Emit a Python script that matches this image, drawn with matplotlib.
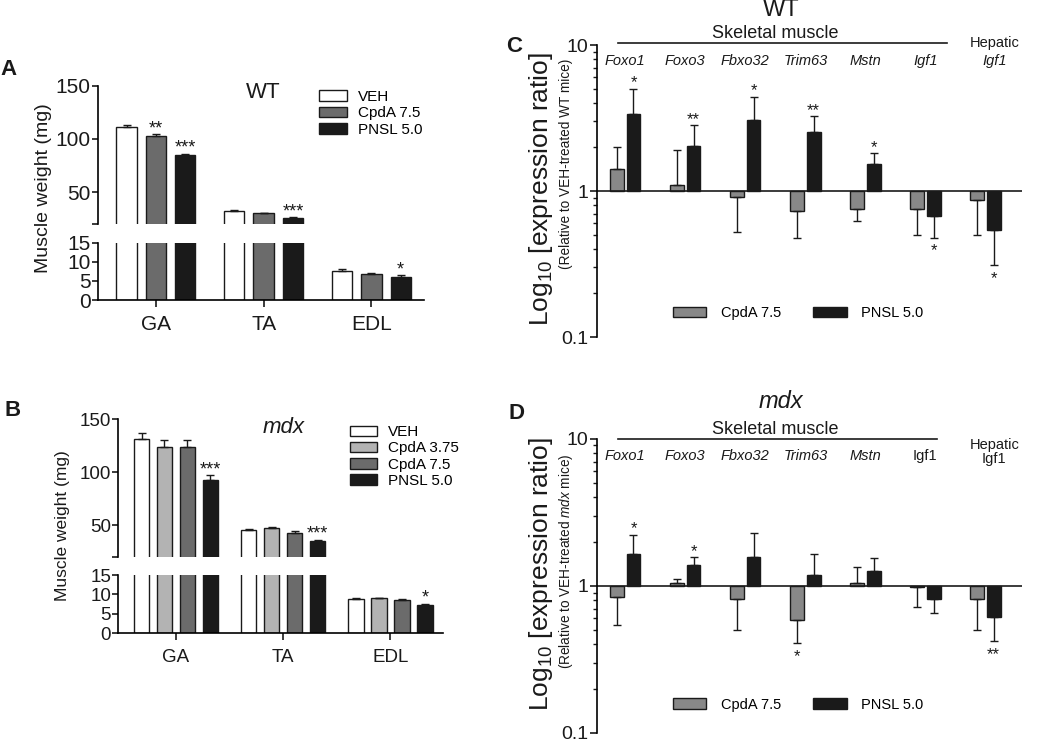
import numpy as np
import matplotlib
matplotlib.use("Agg")
import matplotlib.pyplot as plt
from matplotlib.ticker import LogLocator, NullFormatter, FixedLocator, FixedFormatter

plt.rcParams['font.family'] = ['Liberation Sans', 'DejaVu Sans']
plt.rcParams['mathtext.fontset'] = 'custom'
plt.rcParams['mathtext.rm'] = 'Liberation Sans'
plt.rcParams['mathtext.it'] = 'Liberation Sans:italic'

INK = '#1a1a1a'

# ---- data: muscle weights (mg) ----
muscles = ['GA', 'TA', 'EDL']

wt_groups = ['VEH', 'CpdA 7.5', 'PNSL 5.0']
wt_weight = [[110.8, 32.2, 7.6],
             [102.9, 30.3, 6.8],
             [85.0, 25.8, 6.1]]
wt_sem = [[2.2, 0.6, 0.5],
          [1.6, 0.3, 0.2],
          [1.2, 1.0, 0.4]]
wt_stars = [['', '', ''],
            ['**', '', ''],
            ['***', '***', '*']]

mdx_groups = ['VEH', 'CpdA 3.75', 'CpdA 7.5', 'PNSL 5.0']
mdx_weight = [[131.0, 45.3, 8.8],
              [124.1, 47.2, 9.0],
              [124.1, 42.8, 8.5],
              [92.8, 35.3, 7.3]]
mdx_sem = [[5.4, 0.9, 0.3],
           [6.3, 0.9, 0.2],
           [5.9, 1.5, 0.4],
           [4.7, 1.2, 0.35]]
mdx_stars = [['', '', ''],
             ['', '', ''],
             ['', '', ''],
             ['***', '***', '*']]

# ---- data: expression ratios (relative to VEH) ----
genes = ['Foxo1', 'Foxo3', 'Fbxo32', 'Trim63', 'Mstn', 'Igf1', 'Igf1']
expr_groups = ['CpdA 7.5', 'PNSL 5.0']

wt_cpda = [1.42, 1.10, 0.915, 0.73, 0.75, 0.75, 0.87]
wt_cpda_lim = [2.0, 1.91, 0.52, 0.48, 0.62, 0.50, 0.50]
wt_pnsl = [3.38, 2.03, 3.08, 2.54, 1.52, 0.67, 0.54]
wt_pnsl_lim = [5.0, 2.83, 4.44, 3.26, 1.81, 0.48, 0.31]
wt_cpda_stars = ['', '', '', '', '', '', '']
wt_pnsl_stars = ['*', '**', '*', '**', '*', '*', '*']

mdx_cpda = [0.84, 1.05, 0.82, 0.59, 1.04, 0.975, 0.81]
mdx_cpda_lim = [0.54, 1.11, 0.50, 0.41, 1.34, 0.72, 0.50]
mdx_pnsl = [1.65, 1.38, 1.57, 1.18, 1.26, 0.82, 0.61]
mdx_pnsl_lim = [2.23, 1.57, 2.27, 1.64, 1.55, 0.65, 0.42]
mdx_cpda_stars = ['', '', '', '*', '', '', '']
mdx_pnsl_stars = ['*', '*', '', '', '', '', '**']

fig = plt.figure(figsize=(10.5, 7.43), dpi=100)


def weight_panel(rect_top, rect_bot, groups, values, sems, stars, colors,
                 step, width, fs, title, title_xy, leg_xy, ylab_xy, letter, letter_xy):
    ax_top = fig.add_axes(rect_top)
    ax_bot = fig.add_axes(rect_bot)
    x = np.arange(len(muscles))
    n = len(groups)
    handles = []
    for i in range(n):
        xi = x + (i - (n - 1) / 2) * step
        for ax in (ax_top, ax_bot):
            b = ax.bar(xi, values[i], width, color=colors[i], edgecolor=INK,
                       linewidth=1.0, label=groups[i])
            ax.errorbar(xi, values[i], yerr=[np.zeros(len(xi)), sems[i]], fmt='none',
                        ecolor=INK, elinewidth=1.0, capsize=3, capthick=1.0)
        handles.append(b)
        for j in range(len(muscles)):
            if stars[i][j]:
                ax = ax_top if values[i][j] > 20 else ax_bot
                ax.annotate(stars[i][j], (xi[j], values[i][j] + sems[i][j]),
                            xytext=(0, 0.5), textcoords='offset points',
                            ha='center', va='baseline', fontsize=13, color=INK)
    for ax in (ax_top, ax_bot):
        ax.set_xlim(-0.54, 2.49)
        ax.spines['top'].set_visible(False)
        ax.spines['right'].set_visible(False)
        ax.spines['left'].set_linewidth(1.2)
        ax.spines['bottom'].set_linewidth(1.2)
        ax.tick_params(labelsize=fs, width=1.2, length=4, pad=1, colors=INK)
    ax_top.spines['bottom'].set_visible(False)
    ax_top.set_xticks([])
    ax_top.set_ylim(20, 150)
    ax_top.set_yticks([20, 50, 100, 150])
    ax_top.set_yticklabels(['', '50', '100', '150'])
    ax_bot.set_ylim(0, 15)
    ax_bot.set_yticks([0, 5, 10, 15])
    ax_bot.set_xticks(x)
    ax_bot.set_xticklabels(muscles, fontsize=fs)
    ax_bot.tick_params(axis='x', length=5, pad=6)
    fig.text(title_xy[0], title_xy[1], title, fontsize=16, ha='center', va='center',
             style='italic' if title == 'mdx' else 'normal', color=INK)
    fig.text(ylab_xy[0], ylab_xy[1], 'Muscle weight (mg)', rotation=90, fontsize=fs - 1,
             ha='center', va='center', color=INK)
    fig.legend(handles=handles, loc='upper left', bbox_to_anchor=leg_xy, frameon=False,
               fontsize=11, borderpad=0, labelspacing=0.15, handlelength=1.8,
               handleheight=0.7, handletextpad=0.7)
    fig.text(letter_xy[0], letter_xy[1], letter, fontsize=16, fontweight='bold',
             ha='center', va='center', color=INK)


weight_panel([0.093, 0.6985, 0.311, 0.186], [0.093, 0.5962, 0.311, 0.0771],
             wt_groups, wt_weight, wt_sem, wt_stars,
             ['white', '#6b6b6b', INK], 0.272, 0.189, 15, 'WT', (0.251, 0.875),
             (0.297, 0.889), (0.041, 0.747), 'A', (0.008, 0.906))

weight_panel([0.1124, 0.2503, 0.3095, 0.1857], [0.1124, 0.1476, 0.3095, 0.0785],
             mdx_groups, mdx_weight, mdx_sem, mdx_stars,
             ['white', '#b3b3b3', '#6b6b6b', INK], 0.214, 0.143, 13.5, 'mdx', (0.27, 0.425),
             (0.326, 0.438), (0.06, 0.293), 'B', (0.012, 0.447))


def expr_panel(rect, cpda, cpda_lim, pnsl, pnsl_lim, cpda_stars, pnsl_stars, title, strain,
               italic_igf, line_y, line_x, skel_y, title_y, gene_y, hep_y, igf_y, leg_y,
               letter, letter_xy, ylab_y, sub_y):
    ax = fig.add_axes(rect)
    ax.set_yscale('log')
    x = np.arange(len(genes))
    off = 0.136
    width = 0.233
    cols = ['#888888', INK]
    series = [(cpda, cpda_lim, cpda_stars), (pnsl, pnsl_lim, pnsl_stars)]
    handles = []
    for k, (vals, lims, st) in enumerate(series):
        xi = x + (k - 0.5) * 2 * off
        vals = np.array(vals)
        lims = np.array(lims)
        b = ax.bar(xi, vals - 1, width, bottom=1, color=cols[k], edgecolor=INK,
                   linewidth=1.0, label=expr_groups[k])
        handles.append(b)
        up = np.where(lims > vals, lims - vals, 0)
        dn = np.where(lims < vals, vals - lims, 0)
        ax.errorbar(xi, vals, yerr=[dn, up], fmt='none', ecolor=INK, elinewidth=1.0,
                    capsize=3, capthick=1.0)
        for j in range(len(genes)):
            if st[j]:
                if lims[j] > vals[j]:
                    ax.annotate(st[j], (xi[j], lims[j]), xytext=(0, 1), textcoords='offset points',
                                ha='center', va='baseline', fontsize=12, color=INK)
                else:
                    ax.annotate(st[j], (xi[j], lims[j]), xytext=(0, -13), textcoords='offset points',
                                ha='center', va='baseline', fontsize=12, color=INK)
    ax.axhline(1, color=INK, linewidth=1.2)
    ax.set_xlim(-0.477, 6.61)
    ax.set_ylim(0.1, 10)
    for s in ('top', 'right', 'bottom'):
        ax.spines[s].set_visible(False)
    ax.spines['left'].set_linewidth(1.2)
    ax.set_xticks([])
    ax.yaxis.set_major_locator(FixedLocator([0.1, 1, 10]))
    ax.yaxis.set_major_formatter(FixedFormatter(['0.1', '1', '10']))
    ax.yaxis.set_minor_locator(LogLocator(base=10, subs=np.arange(2, 10)))
    ax.yaxis.set_minor_formatter(NullFormatter())
    ax.tick_params(axis='y', which='major', labelsize=14, width=1.2, length=5, pad=1, colors=INK)
    ax.tick_params(axis='y', which='minor', width=1.0, length=3, colors=INK)

    tr = ax.get_xaxis_transform()
    ax.plot(line_x, [line_y, line_y], transform=tr, color=INK, linewidth=1.2, clip_on=False)
    ax.text(2.5, skel_y, 'Skeletal muscle', transform=tr, ha='center', va='center',
            fontsize=13, color=INK)
    ax.text(2.6, title_y, title, transform=tr, ha='center', va='center', fontsize=17,
            style='italic' if title == 'mdx' else 'normal', color=INK)
    for j in range(len(genes) - 1):
        it = 'italic' if (genes[j] != 'Igf1' or italic_igf) else 'normal'
        ax.text(x[j], gene_y, genes[j], transform=tr, ha='center', va='center',
                fontsize=10.5, style=it, color=INK)
    ax.text(x[-1] + 0.15, hep_y, 'Hepatic', transform=tr, ha='center', va='center',
            fontsize=10.5, color=INK)
    ax.text(x[-1] + 0.15, igf_y, genes[-1], transform=tr, ha='center', va='center',
            fontsize=10.5, style='italic' if italic_igf else 'normal', color=INK)
    ax.legend(handles=handles, loc='center left', bbox_to_anchor=(0.162, leg_y), ncol=2,
              frameon=False, fontsize=10.5, borderpad=0, handlelength=2.3, handleheight=0.75,
              handletextpad=1.0, columnspacing=2.2)

    fig.text(0.515, ylab_y, r'Log$_{10}$ [expression ratio]', rotation=90, fontsize=19,
             ha='center', va='center', color=INK)
    fig.text(0.539, sub_y, '(Relative to VEH-treated ' + strain + ' mice)', rotation=90,
             fontsize=9.8, ha='center', va='center', color=INK)
    fig.text(letter_xy[0], letter_xy[1], letter, fontsize=16, fontweight='bold',
             ha='center', va='center', color=INK)


expr_panel([0.5683, 0.5464, 0.405, 0.393], wt_cpda, wt_cpda_lim, wt_pnsl, wt_pnsl_lim,
           wt_cpda_stars, wt_pnsl_stars, 'WT', 'WT', True,
           1.007, [-0.117, 5.36], 1.041, 1.12, 0.945, 1.007, 0.945, 0.082,
           'C', (0.490, 0.937), 0.745, 0.78)

expr_panel([0.5683, 0.0135, 0.405, 0.396], mdx_cpda, mdx_cpda_lim, mdx_pnsl, mdx_pnsl_lim,
           mdx_cpda_stars, mdx_pnsl_stars, 'mdx', r'$\it{mdx}$', False,
           1.0, [-0.12, 5.19], 1.03, 1.126, 0.94, 0.98, 0.93, 0.096,
           'D', (0.492, 0.443), 0.227, 0.245)

fig.savefig('out.png', dpi=100)
